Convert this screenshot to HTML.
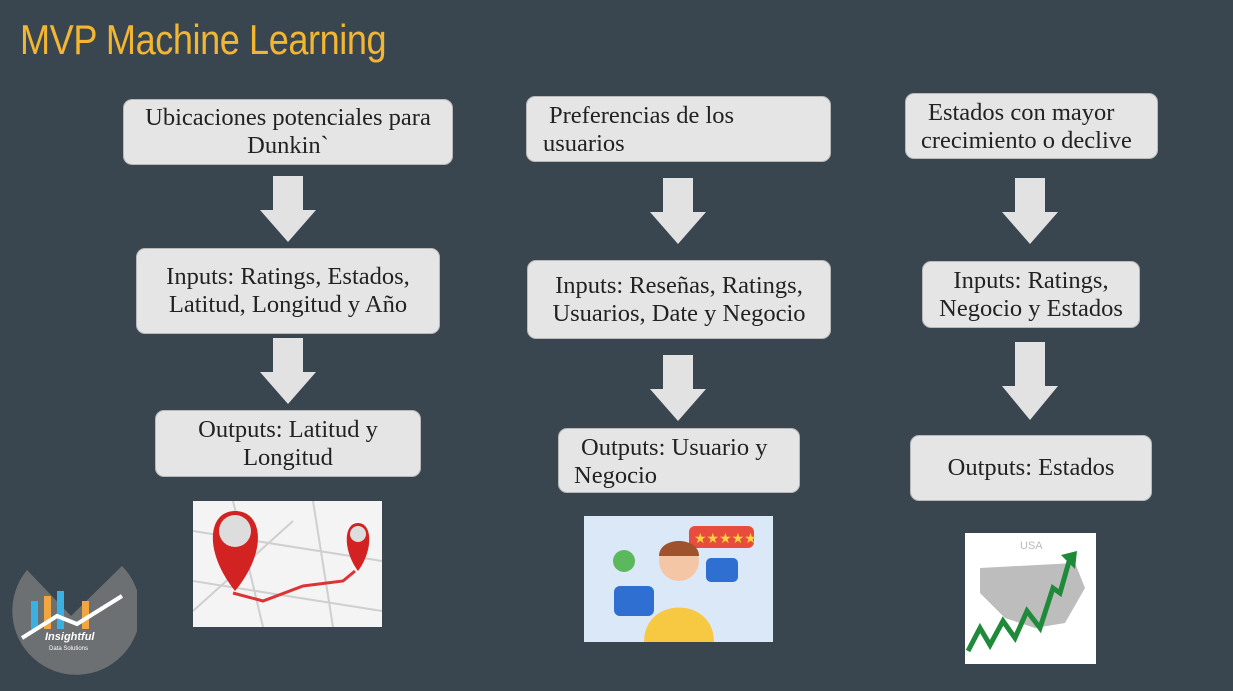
<!DOCTYPE html>
<html><head><meta charset="utf-8"><style>
body{margin:0;width:1233px;height:691px;background:#39464f;position:relative;overflow:hidden;font-family:"Liberation Serif",serif;}
.t{position:absolute;left:20px;top:16px;color:#f2b631;font-family:"Liberation Sans",sans-serif;font-size:42px;letter-spacing:-0.5px;transform:scaleX(0.86);transform-origin:left top;white-space:nowrap;}
.b{position:absolute;background:#e5e5e5;border:1px solid #b9b9b9;border-radius:9px;box-sizing:border-box;color:#222;font-size:24.5px;line-height:28px;}
.b span{position:absolute;white-space:nowrap;}
.c{display:flex;align-items:center;justify-content:center;text-align:center;}
svg.a{position:absolute;}
.img{position:absolute;background:#fff;}
</style></head><body>
<div class="t">MVP Machine Learning</div>

<div class="b c" style="left:123px;top:99px;width:330px;height:66px">Ubicaciones potenciales para<br>Dunkin`</div>
<svg class="a" style="left:258px;top:176px" width="60" height="68"><polygon points="15,0 45,0 45,34 58,34 30,66 2,34 15,34" fill="#e2e2e2"/></svg>
<div class="b c" style="left:136px;top:248px;width:304px;height:86px">Inputs: Ratings, Estados,<br>Latitud, Longitud y Año</div>
<svg class="a" style="left:258px;top:338px" width="60" height="68"><polygon points="15,0 45,0 45,34 58,34 30,66 2,34 15,34" fill="#e2e2e2"/></svg>
<div class="b c" style="left:155px;top:410px;width:266px;height:67px">Outputs: Latitud y<br>Longitud</div>
<svg class="img" style="left:193px;top:501px" width="189" height="126">
<rect width="189" height="126" fill="#f4f4f4"/>
<g stroke="#cfcfcf" stroke-width="2" fill="none"><path d="M0,30 L189,60 M0,80 L189,110 M40,0 L70,126 M120,0 L140,126 M0,110 L100,20"/></g>
<path d="M40,92 L70,100 L110,85 L150,80 L162,70" stroke="#d33" stroke-width="3" fill="none"/>
<path d="M42,90 C10,50 15,10 42,10 C70,10 75,50 42,90Z" fill="#d32222"/><circle cx="42" cy="30" r="16" fill="#ddd"/>
<path d="M165,70 C150,50 150,22 165,22 C180,22 180,50 165,70Z" fill="#d32222"/><circle cx="165" cy="33" r="8" fill="#ddd"/>
</svg>

<div class="b" style="left:526px;top:96px;width:305px;height:66px"><span style="left:22px;top:5px">Preferencias de los</span><span style="left:16px;top:33px">usuarios</span></div>
<svg class="a" style="left:648px;top:178px" width="60" height="68"><polygon points="15,0 45,0 45,34 58,34 30,66 2,34 15,34" fill="#e2e2e2"/></svg>
<div class="b c" style="left:527px;top:260px;width:304px;height:79px">Inputs: Reseñas, Ratings,<br>Usuarios, Date y Negocio</div>
<svg class="a" style="left:648px;top:355px" width="60" height="68"><polygon points="15,0 45,0 45,34 58,34 30,66 2,34 15,34" fill="#e2e2e2"/></svg>
<div class="b" style="left:558px;top:428px;width:242px;height:65px"><span style="left:22px;top:5px">Outputs: Usuario y</span><span style="left:15px;top:33px">Negocio</span></div>
<svg class="img" style="left:584px;top:516px;background:#dbe8f7" width="189" height="126">
<rect x="105" y="10" width="65" height="22" rx="6" fill="#e74c3c"/><text x="110" y="27" fill="#ffd23f" font-size="14">★★★★★</text>
<circle cx="95" cy="45" r="20" fill="#f5c6a5"/><path d="M75,40 C75,20 115,20 115,40Z" fill="#a0522d"/>
<path d="M60,126 C60,80 130,80 130,126Z" fill="#f7c942"/>
<rect x="30" y="70" width="40" height="30" rx="6" fill="#2f6fd1"/>
<rect x="122" y="42" width="32" height="24" rx="5" fill="#2f6fd1"/>
<circle cx="40" cy="45" r="11" fill="#5cb85c"/>
</svg>

<div class="b" style="left:905px;top:93px;width:253px;height:66px"><span style="left:22px;top:5px">Estados con mayor</span><span style="left:15px;top:33px">crecimiento o declive</span></div>
<svg class="a" style="left:1000px;top:178px" width="60" height="68"><polygon points="15,0 45,0 45,34 58,34 30,66 2,34 15,34" fill="#e2e2e2"/></svg>
<div class="b c" style="left:922px;top:261px;width:218px;height:67px">Inputs: Ratings,<br>Negocio y Estados</div>
<svg class="a" style="left:1000px;top:342px" width="60" height="80"><polygon points="15,0 45,0 45,44 58,44 30,78 2,44 15,44" fill="#e2e2e2"/></svg>
<div class="b c" style="left:910px;top:435px;width:242px;height:66px">Outputs: Estados</div>
<svg class="img" style="left:965px;top:533px" width="131" height="131">
<text x="55" y="16" fill="#bbb" font-size="11" font-family="Liberation Sans">USA</text>
<path d="M15,35 L110,30 L120,55 L100,90 L70,95 L40,85 L15,60Z" fill="#bdbdbd"/>
<path d="M3,118 L15,95 L25,112 L38,88 L50,105 L62,78 L75,95 L88,55 L95,60 L105,25" stroke="#1e8a3a" stroke-width="5" fill="none"/>
<polygon points="96,22 112,18 110,36" fill="#1e8a3a"/>
</svg>

<svg class="a" style="left:7px;top:556px" width="130" height="125">
<path d="M20,14 A64,64 0 1 0 115,10 L64,60 Z" fill="#6d7073"/>
<g fill="#3cb0e0"><rect x="24" y="45" width="7" height="28"/><rect x="50" y="35" width="7" height="38"/></g>
<g fill="#f2a640"><rect x="37" y="40" width="7" height="33"/><rect x="75" y="45" width="7" height="28"/></g>
<path d="M15,82 L50,60 L70,68 L115,40" stroke="#fff" stroke-width="4" fill="none"/>
<text x="38" y="84" fill="#fff" font-size="11" font-style="italic" font-weight="bold" font-family="Liberation Sans">Insightful</text>
<text x="42" y="94" fill="#fff" font-size="6" font-family="Liberation Sans">Data Solutions</text>
</svg>
</body></html>
